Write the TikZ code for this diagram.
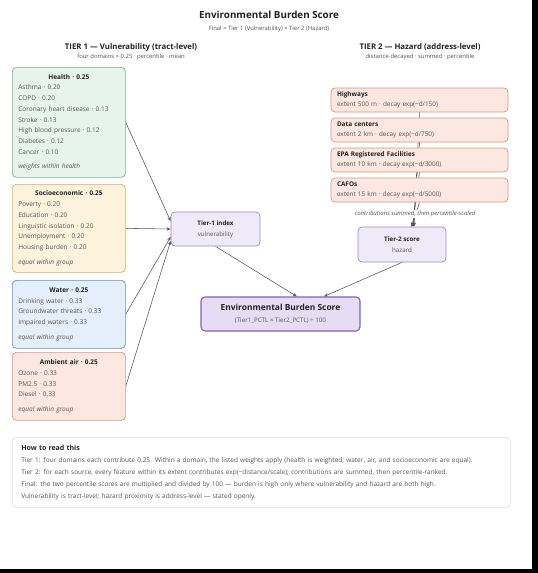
\documentclass[tikz,border=0pt]{standalone}
\usepackage{fontspec}
\setmainfont{Open Sans}
\usetikzlibrary{arrows.meta,positioning}
\pgfdeclarelayer{bg}
\pgfdeclarelayer{edges}
\pgfsetlayers{bg,edges,main}

\definecolor{ink}{HTML}{222222}
\definecolor{soft}{HTML}{555555}
\definecolor{wire}{HTML}{555555}
\definecolor{hfill}{HTML}{E6F4EC}\definecolor{hline}{HTML}{6BB893}
\definecolor{sfill}{HTML}{FDF2DC}\definecolor{sline}{HTML}{D9AD62}
\definecolor{wfill}{HTML}{E5EEFB}\definecolor{wline}{HTML}{5F8FD0}
\definecolor{afill}{HTML}{FCE8E0}\definecolor{aline}{HTML}{DF9580}
\definecolor{pfill}{HTML}{EFEAF8}\definecolor{pline}{HTML}{9B87CC}
\definecolor{ffill}{HTML}{E6DDF5}\definecolor{fline}{HTML}{7D63BF}
\definecolor{rline}{HTML}{DDDDDD}

\newcommand{\boxhead}[1]{\makebox[101pt][c]{\textbf{\color{ink}#1}}}

\begin{document}
\begin{tikzpicture}
    [
        x=1pt, y=-1pt,
        box/.style={draw, rounded corners=4pt, line width=0.7pt},
        domainbox/.style={box, anchor=north west, text width=101pt, inner xsep=6pt,
            inner ysep=0pt, align=left, text=soft, font=\fontsize{6.5}{10.7}\selectfont},
        indexbox/.style={box, fill=pfill, draw=pline, minimum width=89pt, minimum height=34pt,
            align=center, text=soft, font=\fontsize{6.2}{11}\selectfont},
        sourcebox/.style={box, fill=afill, draw=aline, minimum height=24pt, text width=165pt,
            inner xsep=6pt, inner ysep=0pt, align=left, text=soft,
            font=\fontsize{6.4}{10.5}\selectfont},
        edge/.style={-{Stealth[length=4pt,width=3.4pt,inset=1.2pt]}, draw=wire, line width=0.55pt},
        heading/.style={text=ink, font=\bfseries\fontsize{7.8}{9}\selectfont},
        subtext/.style={text=soft, font=\fontsize{5.9}{7}\selectfont},
    ]

    % page
    \begin{pgfonlayer}{bg}
        \fill [black] (0,0) rectangle (538,573);
        \fill [white] (0,0) rectangle (532,569);
    \end{pgfonlayer}

    % titles
    \node (title) at (269,15) [text=ink, font=\bfseries\fontsize{9.8}{11}\selectfont] {Environmental Burden Score};
    \node (final eq) at (269,29) [subtext] {Final = Tier 1 (Vulnerability) × Tier 2 (Hazard)};
    \node (tier1 head) at (131,47) [heading] {TIER 1 — Vulnerability (tract-level)};
    \node (tier1 sub)  at (131,57) [subtext] {four domains × 0.25 · percentile · mean};
    \node (tier2 head) at (420,47) [heading] {TIER 2 — Hazard (address-level)};
    \node (tier2 sub)  at (420,57) [subtext] {distance-decayed · summed · percentile};

    % tier 1 domains
    \node (health) at (12,67) [domainbox, fill=hfill, draw=hline, minimum height=110pt]
        {\boxhead{Health · 0.25}\\ Asthma · 0.20\\ COPD · 0.20\\ Coronary heart disease · 0.13\\
         Stroke · 0.13\\ High blood pressure · 0.12\\ Diabetes · 0.12\\ Cancer · 0.10\\[4pt]
         \textit{weights within health}};
    \node (socio) at (12,184) [domainbox, fill=sfill, draw=sline, minimum height=88pt]
        {\boxhead{Socioeconomic · 0.25}\\ Poverty · 0.20\\ Education · 0.20\\
         Linguistic isolation · 0.20\\ Unemployment · 0.20\\ Housing burden · 0.20\\[4pt]
         \textit{equal within group}};
    \node (water) at (12,280) [domainbox, fill=wfill, draw=wline, minimum height=68pt]
        {\boxhead{Water · 0.25}\\ Drinking water · 0.33\\ Groundwater threats · 0.33\\
         Impaired waters · 0.33\\[4pt] \textit{equal within group}};
    \node (air) at (12,352) [domainbox, fill=afill, draw=aline, minimum height=68pt]
        {\boxhead{Ambient air · 0.25}\\ Ozone · 0.33\\ PM2.5 · 0.33\\ Diesel · 0.33\\[4pt]
         \textit{equal within group}};

    % tier 2 sources
    \node (highways) at (419.5,100) [sourcebox]
        {\textbf{\color{ink}Highways}\\ extent 500 m · decay exp(−d/150)};
    \node (datacenters) at (419.5,130) [sourcebox]
        {\textbf{\color{ink}Data centers}\\ extent 2 km · decay exp(−d/750)};
    \node (epa) at (419.5,160) [sourcebox]
        {\textbf{\color{ink}EPA Registered Facilities}\\ extent 10 km · decay exp(−d/3000)};
    \node (cafos) at (419.5,190) [sourcebox]
        {\textbf{\color{ink}CAFOs}\\ extent 15 km · decay exp(−d/5000)};
    \node (summed) at (415,214) [fill=white, inner sep=1pt, text=soft,
        font=\itshape\fontsize{6}{7}\selectfont] {contributions summed, then percentile-scaled};

    % indices
    \node (tier1) at (215.5,229) [indexbox] {\textbf{\color{ink}Tier-1 index}\\ vulnerability};
    \node (tier2) at (402,244.5) [indexbox, minimum width=88pt, minimum height=35pt]
        {\textbf{\color{ink}Tier-2 score}\\ hazard};
    \node (score) at (280.5,314) [indexbox, fill=ffill, draw=fline, line width=1.1pt,
        minimum width=159pt, font=\fontsize{6.2}{12}\selectfont]
        {\textbf{\color{ink}\fontsize{8.4}{9}\selectfont Environmental Burden Score}\\
         (Tier1\_PCTL × Tier2\_PCTL) ÷ 100};

    % how to read
    \node (legend) at (12,437) [box, draw=rline, line width=0.6pt, fill=white, anchor=north west,
        minimum width=497pt, minimum height=70pt, text width=480pt, inner xsep=9pt,
        align=left, text=soft, font=\fontsize{6.5}{12}\selectfont]
        {\textbf{\color{ink}\fontsize{7}{8}\selectfont How to read this}\\
         Tier 1: four domains each contribute 0.25. Within a domain, the listed weights apply (health is weighted; water, air, and socioeconomic are equal).\\
         Tier 2: for each source, every feature within its extent contributes exp(−distance/scale); contributions are summed, then percentile-ranked.\\
         Final: the two percentile scores are multiplied and divided by 100 — burden is high only where vulnerability and hazard are both high.\\
         Vulnerability is tract-level; hazard proximity is address-level — stated openly.};

    % connectors
    \begin{pgfonlayer}{edges}
        \draw [edge] (health.east) -- (tier1.170);
        \draw [edge] (socio.east) -- (tier1.180);
        \draw [edge] (water.east) -- (tier1.190);
        \draw [edge] (air.east) -- (tier1.195);
        \draw [edge] (highways.south) -- (tier2.56);
        \draw [edge] (datacenters.south) -- (tier2.58);
        \draw [edge] (epa.south) -- (tier2.60);
        \draw [edge] (cafos.south) -- (tier2.62);
        \draw [edge] (tier1.south) -- (score.47);
        \draw [edge] (tier2.south) -- (score.22);
    \end{pgfonlayer}

\end{tikzpicture}
\end{document}
